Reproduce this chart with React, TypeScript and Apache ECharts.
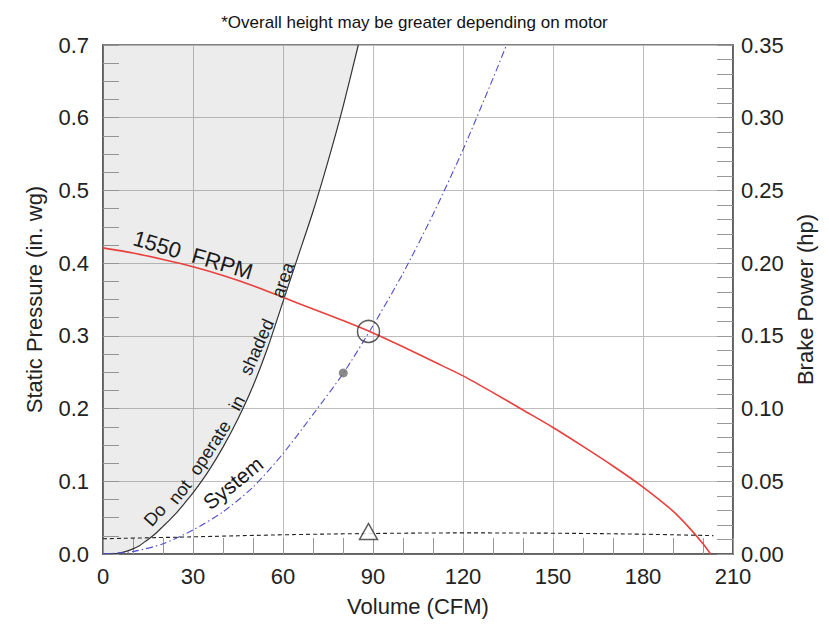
import React, { useEffect, useRef } from "react";
import * as echarts from "echarts";

// ---- data ----
const volumeRange = [0, 210, 30]; // min, max, interval (CFM)
const pressureRange = [0, 0.7, 0.1]; // in. wg
const powerRange = [0, 0.35, 0.05]; // hp

// 1550 FRPM fan curve: [CFM, in. wg]
const fanCurve1550 = [
  [0, 0.421], [10, 0.414], [20, 0.405], [30, 0.395], [40, 0.383], [50, 0.369],
  [60, 0.353], [70, 0.337], [80, 0.321], [90, 0.304], [100, 0.285], [110, 0.265],
  [120, 0.245], [130, 0.222], [140, 0.198], [150, 0.174], [160, 0.148],
  [170, 0.121], [180, 0.092], [190, 0.059], [195, 0.038], [200, 0.014], [202.5, 0],
];

// System curve: [CFM, in. wg]
const systemCurve = [
  [0, 0], [10, 0.0035], [20, 0.014], [30, 0.033], [40, 0.058], [50, 0.092],
  [60, 0.138], [70, 0.192], [80, 0.248], [90, 0.314], [100, 0.386],
  [110, 0.467], [120, 0.556], [130, 0.654], [134.5, 0.7],
];

// "Do not operate" boundary: [CFM, in. wg]
const stallBoundary = [
  [0, 0], [3, 0], [5, 0.001], [8, 0.004], [10, 0.007], [12, 0.011], [14, 0.017],
  [16, 0.023], [18, 0.03], [20, 0.038], [22, 0.046], [25, 0.059], [28, 0.074],
  [30, 0.084], [35, 0.113], [40, 0.147], [45, 0.186], [50, 0.231], [55, 0.285],
  [60, 0.347], [65, 0.409], [70, 0.471], [75, 0.54], [80, 0.615], [85.1, 0.7],
];

// Brake power curve: [CFM, hp]
const brakePower = [
  [0, 0.0105], [30, 0.0118], [60, 0.0132], [90, 0.0141], [120, 0.0145],
  [150, 0.0143], [180, 0.0136], [203.5, 0.0126],
];

const operatingPoint = [[88.5, 0.306]];
const operatingPower = [[88.5, 0.0155]];
const secondaryPoint = [[80.1, 0.249]];

const titleText = "*Overall height may be greater depending on motor";
const xName = "Volume (CFM)";
const yName = "Static Pressure (in. wg)";
const y2Name = "Brake Power (hp)";

// ---- annotation layout (pixels) ----
const FONT = '"Liberation Sans", Arial, Helvetica, sans-serif';
const annotations = [
  { t: "1550  FRPM", x: 193, y: 255, r: -16.3, s: 22 },
  { t: "System", x: 233, y: 483, r: 39, s: 21 },
  { t: "Do", x: 155, y: 515, r: 48, s: 18 },
  { t: "not", x: 180, y: 492, r: 52, s: 18 },
  { t: "operate", x: 210, y: 448, r: 57, s: 18 },
  { t: "in", x: 237, y: 403, r: 62, s: 18 },
  { t: "shaded", x: 257, y: 347, r: 66, s: 18 },
  { t: "area", x: 283, y: 280, r: 71, s: 18 },
];

export default function App() {
  const ref = useRef<HTMLDivElement>(null);

  useEffect(() => {
    document.body.style.margin = "0";
    if (!ref.current) return;
    const chart = echarts.init(ref.current, undefined, { renderer: "svg" });

    const axisLine = { show: true, lineStyle: { color: "#555", width: 1.5 } };
    const tickStyle = { color: "#999", width: 1 };

    chart.setOption({
      animation: false,
      backgroundColor: "#fff",
      textStyle: { fontFamily: FONT },
      title: {
        text: titleText,
        left: "center",
        top: 9,
        textStyle: { fontSize: 17, fontWeight: "normal", color: "#111", fontFamily: FONT },
      },
      grid: {
        left: 103, right: 96, top: 45, bottom: 79,
        show: true, borderColor: "#555", borderWidth: 1.5,
      },
      xAxis: {
        type: "value",
        min: volumeRange[0], max: volumeRange[1], interval: volumeRange[2],
        name: xName, nameLocation: "middle", nameGap: 41,
        nameTextStyle: { fontSize: 22, color: "#222", fontFamily: FONT },
        axisLine,
        axisTick: { show: true, inside: true, length: 16, lineStyle: tickStyle },
        minorTick: { show: true, splitNumber: 3, length: 16, lineStyle: tickStyle },
        axisLabel: { fontSize: 22, color: "#222", margin: 11, fontFamily: FONT },
        splitLine: { show: true, lineStyle: { color: "#bdbdbd", width: 1 } },
      },
      yAxis: [
        {
          type: "value", position: "left",
          min: pressureRange[0], max: pressureRange[1], interval: pressureRange[2],
          name: yName, nameLocation: "middle", nameGap: 58, nameRotate: 90,
          nameTextStyle: { fontSize: 22, color: "#222", fontFamily: FONT },
          axisLine,
          axisTick: { show: true, inside: true, length: 16, lineStyle: tickStyle },
          minorTick: { show: true, splitNumber: 4, length: 16, lineStyle: tickStyle },
          axisLabel: { fontSize: 22, color: "#222", margin: 14, fontFamily: FONT, formatter: (v: number) => v.toFixed(1) },
          splitLine: { show: true, lineStyle: { color: "#bdbdbd", width: 1 } },
        },
        {
          type: "value", position: "right",
          min: powerRange[0], max: powerRange[1], interval: powerRange[2],
          name: y2Name, nameLocation: "middle", nameGap: 56, nameRotate: 90,
          nameTextStyle: { fontSize: 22, color: "#222", fontFamily: FONT },
          axisLine,
          axisTick: { show: true, inside: true, length: 16, lineStyle: tickStyle },
          minorTick: { show: true, splitNumber: 5, length: 16, lineStyle: tickStyle },
          axisLabel: { fontSize: 22, color: "#222", margin: 8, fontFamily: FONT, formatter: (v: number) => v.toFixed(2) },
          splitLine: { show: false },
        },
      ],
      series: [
        {
          name: "Do not operate",
          type: "line",
          data: stallBoundary,
          smooth: 0.25,
          showSymbol: false,
          lineStyle: { color: "#333", width: 1.2 },
          areaStyle: { origin: "end", color: "rgba(120,120,120,0.2)" },
          z: 2,
        },
        {
          name: "System",
          type: "line",
          data: systemCurve,
          smooth: 0.25,
          showSymbol: false,
          lineStyle: { color: "#4f4fcf", width: 1.1, type: [7, 3, 1.5, 3] },
          z: 3,
        },
        {
          name: "1550 FRPM",
          type: "line",
          data: fanCurve1550,
          smooth: 0.25,
          showSymbol: false,
          lineStyle: { color: "#e8403c", width: 1.6 },
          z: 4,
        },
        {
          name: "Brake Power",
          type: "line",
          yAxisIndex: 1,
          data: brakePower,
          smooth: 0.4,
          showSymbol: false,
          lineStyle: { color: "#222", width: 1.1, type: [4, 3] },
          z: 4,
        },
        {
          type: "scatter",
          data: operatingPoint,
          symbol: "circle",
          symbolSize: 22,
          itemStyle: { color: "rgba(0,0,0,0)", borderColor: "#333", borderWidth: 1.5 },
          z: 6,
        },
        {
          type: "scatter",
          yAxisIndex: 1,
          data: operatingPower,
          symbol: "triangle",
          symbolSize: [18, 16],
          itemStyle: { color: "#fff", borderColor: "#333", borderWidth: 1.5 },
          z: 6,
        },
        {
          type: "scatter",
          data: secondaryPoint,
          symbol: "circle",
          symbolSize: 9,
          itemStyle: { color: "#6e6e6e" },
          z: 6,
        },
      ],
      graphic: annotations.map((a) => ({
        type: "text",
        x: a.x,
        y: a.y,
        rotation: (a.r * Math.PI) / 180,
        z: 10,
        style: {
          text: a.t,
          font: `${a.s}px ${FONT}`,
          fill: "#1a1a1a",
          align: "center",
          verticalAlign: "middle",
        },
      })),
    });

    return () => chart.dispose();
  }, []);

  return <div ref={ref} style={{ width: 829, height: 633 }} />;
}
